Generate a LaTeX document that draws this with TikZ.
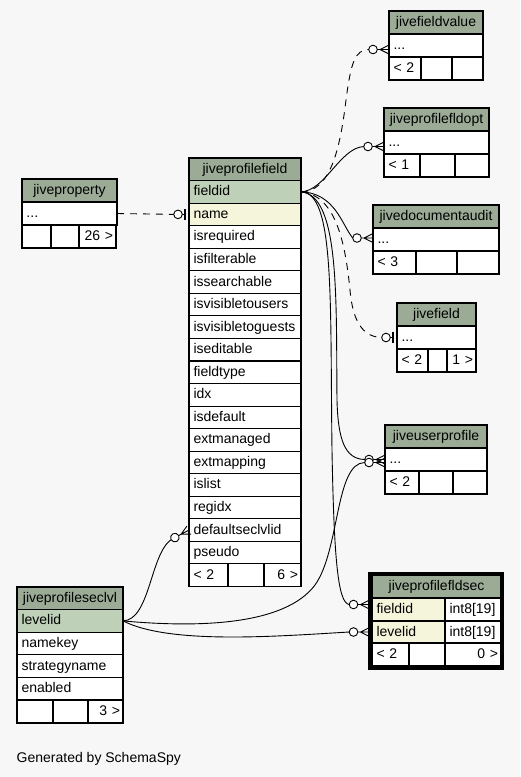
\documentclass[tikz,border=0pt]{standalone}
\usepackage{fontspec}
\setmainfont{Liberation Sans}
\usetikzlibrary{positioning}

\definecolor{bgclr}{HTML}{F7F7F7}
\definecolor{headclr}{HTML}{9BAB96}
\definecolor{keyclr}{HTML}{BED1B8}
\definecolor{idxclr}{HTML}{F5F5DC}

\newcommand{\tabfont}{\fontsize{14}{16}\selectfont}

\tikzset{
  row/.style={draw, line width=1.1pt, fill=white, anchor=north west, outer sep=0pt,
    inner xsep=4.5pt, inner ysep=0pt, minimum height=22.6pt,
    text height=11pt, text depth=3pt, align=left, font=\tabfont},
  head/.style={row, fill=headclr, align=center},
  keyrow/.style={row, fill=keyclr},
  idxrow/.style={row, fill=idxclr},
  nextcell/.style={row, inner xsep=3pt, align=right},
  link/.style={line width=0.9pt},
  optlink/.style={link, dash pattern=on 7pt off 6pt},
  many/.pic={
    \draw[link] (-11.7,0) -- (-9,0) -- (0,-4.5) (-9,0) -- (0,0) (-9,0) -- (0,4.5);
    \draw[link, fill=white] (-16,0) circle[radius=4.3pt];
    \coordinate (-tail) at (-20.3,0);
  },
  one/.pic={
    \draw[line width=2.5pt] (-4,-5.5) -- (-4,5.5);
    \draw[link] (-6.7,0) -- (-4,0);
    \draw[link, fill=white] (-11,0) circle[radius=4.3pt];
    \coordinate (-tail) at (-15.3,0);
  }
}

\begin{document}
\begin{tikzpicture}[x=1pt, y=-1pt]

\path[use as bounding box, fill=bgclr] (0,0) rectangle (520,777);

% jiveprofilefield
\node[head, text width=103pt, minimum height=22.55pt] (pf) at (189,158) {jiveprofilefield};
\node[keyrow, text width=103pt, minimum height=22.55pt] (pf-fieldid) at (189,180.55) {fieldid};
\node[idxrow, text width=103pt, minimum height=22.55pt] (pf-name) at (189,203.1) {name};
\foreach \c [count=\i from 3] in {isrequired,isfilterable,issearchable,isvisibletousers,
    isvisibletoguests,iseditable,fieldtype,idx,isdefault,extmanaged,extmapping,islist,
    regidx,defaultseclvlid,pseudo}
  \node[row, text width=103pt, minimum height=22.55pt] (pf-\c) at (189,{158+22.55*\i}) {\c};
\node[row, text width=30pt, minimum height=22.55pt] (pf-prev) at (189,563.9) {< 2};
\node[row, text width=27pt, minimum height=22.55pt, right=0pt of pf-prev] (pf-mid) {};
\node[nextcell, text width=31pt, minimum height=22.55pt, right=0pt of pf-mid] (pf-next) {6 >};

% jiveproperty
\node[head, text width=86pt, minimum height=23pt] (jp) at (22,179) {jiveproperty};
\node[row, text width=86pt, minimum height=23pt] (jp-more) at (22,202) {...};
\node[row, text width=20pt, minimum height=23pt] (jp-prev) at (22,225) {};
\node[row, text width=19pt, minimum height=23pt, right=0pt of jp-prev] (jp-mid) {};
\node[nextcell, text width=31pt, minimum height=23pt, right=0pt of jp-mid] (jp-next) {26 >};

% jivefieldvalue
\node[head, text width=85pt, minimum height=23pt] (fv) at (389,11) {jivefieldvalue};
\node[row, text width=85pt, minimum height=23pt] (fv-more) at (389,34) {...};
\node[row, text width=23pt, minimum height=23pt] (fv-prev) at (389,57) {< 2};
\node[row, text width=22pt, minimum height=23pt, right=0pt of fv-prev] (fv-mid) {};
\node[row, text width=22pt, minimum height=23pt, right=0pt of fv-mid] (fv-next) {};

% jiveprofilefldopt
\node[head, text width=96pt, minimum height=23pt] (fo) at (384,108) {jiveprofilefldopt};
\node[row, text width=96pt, minimum height=23pt] (fo-more) at (384,131) {...};
\node[row, text width=27pt, minimum height=23pt] (fo-prev) at (384,154) {< 1};
\node[row, text width=26pt, minimum height=23pt, right=0pt of fo-prev] (fo-mid) {};
\node[row, text width=25pt, minimum height=23pt, right=0pt of fo-mid] (fo-next) {};

% jivedocumentaudit
\node[head, text width=117pt, minimum height=23pt] (da) at (373,205) {jivedocumentaudit};
\node[row, text width=117pt, minimum height=23pt] (da-more) at (373,228) {...};
\node[row, text width=34pt, minimum height=23pt] (da-prev) at (373,251) {< 3};
\node[row, text width=32pt, minimum height=23pt, right=0pt of da-prev] (da-mid) {};
\node[row, text width=33pt, minimum height=23pt, right=0pt of da-mid] (da-next) {};

% jivefield
\node[head, text width=70pt, minimum height=23pt] (jf) at (397,303) {jivefield};
\node[row, text width=70pt, minimum height=23pt] (jf-more) at (397,326) {...};
\node[row, text width=22pt, minimum height=23pt] (jf-prev) at (397,349) {< 2};
\node[row, text width=10pt, minimum height=23pt, right=0pt of jf-prev] (jf-mid) {};
\node[nextcell, text width=23pt, minimum height=23pt, right=0pt of jf-mid] (jf-next) {1 >};

% jiveuserprofile
\node[head, text width=93pt, minimum height=23pt] (up) at (385,425) {jiveuserprofile};
\node[row, text width=93pt, minimum height=23pt] (up-more) at (385,448) {...};
\node[row, text width=25pt, minimum height=23pt] (up-prev) at (385,471) {< 2};
\node[row, text width=25pt, minimum height=23pt, right=0pt of up-prev] (up-mid) {};
\node[row, text width=25pt, minimum height=23pt, right=0pt of up-mid] (up-next) {};

% jiveprofilefldsec
\draw[line width=2.6pt] (369.5,573.5) rectangle (502.5,668.5);
\node[head, text width=120pt, minimum height=23pt] (fs) at (372,575) {jiveprofilefldsec};
\node[idxrow, text width=64pt, minimum height=23pt] (fs-fieldid) at (372,598) {fieldid};
\node[row, text width=47pt, minimum height=23pt, right=0pt of fs-fieldid] (fs-fieldid-type) {int8[19]};
\node[idxrow, text width=64pt, minimum height=22pt] (fs-levelid) at (372,621) {levelid};
\node[row, text width=47pt, minimum height=22pt, right=0pt of fs-levelid] (fs-levelid-type) {int8[19]};
\node[row, text width=28pt, minimum height=23pt] (fs-prev) at (372,643) {< 2};
\node[row, text width=27pt, minimum height=23pt, right=0pt of fs-prev] (fs-mid) {};
\node[nextcell, text width=50pt, minimum height=23pt, right=0pt of fs-mid] (fs-next) {0 >};

% jiveprofileseclvl
\node[head, text width=97pt] (sl) at (17,587) {jiveprofileseclvl};
\node[keyrow, text width=97pt] (sl-levelid) at (17,609.6) {levelid};
\foreach \c [count=\i from 2] in {namekey,strategyname,enabled}
  \node[row, text width=97pt] (sl-\c) at (17,{587+22.6*\i}) {\c};
\node[row, text width=27pt] (sl-prev) at (17,700.4) {};
\node[row, text width=26pt, right=0pt of sl-prev] (sl-mid) {};
\node[nextcell, text width=29pt, right=0pt of sl-mid] (sl-next) {3 >};

% relationship ends
\pic (nm) at (pf-name.west) {one};
\pic (fv1) at ([yshift=-4pt]fv-more.west) {many};
\pic (fo1) at ([yshift=-4pt]fo-more.west) {many};
\pic (da1) at ([yshift=1.5pt]da-more.west) {many};
\pic (jf1) at (jf-more.west) {one};
\pic (up1) at (up-more.west) {many};
\pic (up2) at ([yshift=-3pt]up-more.west) {many};
\pic (fs1) at ([xshift=-2.5pt,yshift=5pt]fs-fieldid.west) {many};
\pic (fs2) at ([xshift=-2.5pt]fs-levelid.west) {many};
\pic[rotate=28] (ds1) at (pf-defaultseclvlid.west) {many};

% relationships
\draw[optlink] (jp-more.east) -- (nm-tail);
\draw[optlink] (pf-fieldid.east) .. controls (330,192) and (340,150) .. (346,100)
  .. controls (351,62) and (355,50) .. (fv1-tail);
\draw[link] (pf-fieldid.east) .. controls (325,191) and (340,148) .. (fo1-tail);
\draw[link] (pf-fieldid.east) .. controls (335,193) and (342,225) .. (da1-tail);
\draw[optlink] (pf-fieldid.east) .. controls (335,195) and (345,240) .. (350,290)
  .. controls (353,325) and (365,337) .. (jf1-tail);
\draw[link] (pf-fieldid.east) .. controls (340,195) and (336,300) .. (337,400)
  .. controls (338,440) and (345,459) .. (up1-tail);
\draw[link] (pf-fieldid.east) .. controls (335,192) and (330,300) .. (332,450)
  .. controls (334,560) and (338,603) .. (fs1-tail);
\draw[link] (sl-levelid.east) .. controls (150,620) and (150,555) .. (ds1-tail);
\draw[link] (sl-levelid.east) .. controls (200,628) and (285,625) .. (315,585)
  .. controls (340,550) and (335,463) .. (up2-tail);
\draw[link] (sl-levelid.east) .. controls (170,645) and (280,636) .. (fs2-tail);

\node[anchor=base west, inner sep=0pt, font=\tabfont] (gen) at (16.5,762.5) {Generated by SchemaSpy};

\end{tikzpicture}
\end{document}
